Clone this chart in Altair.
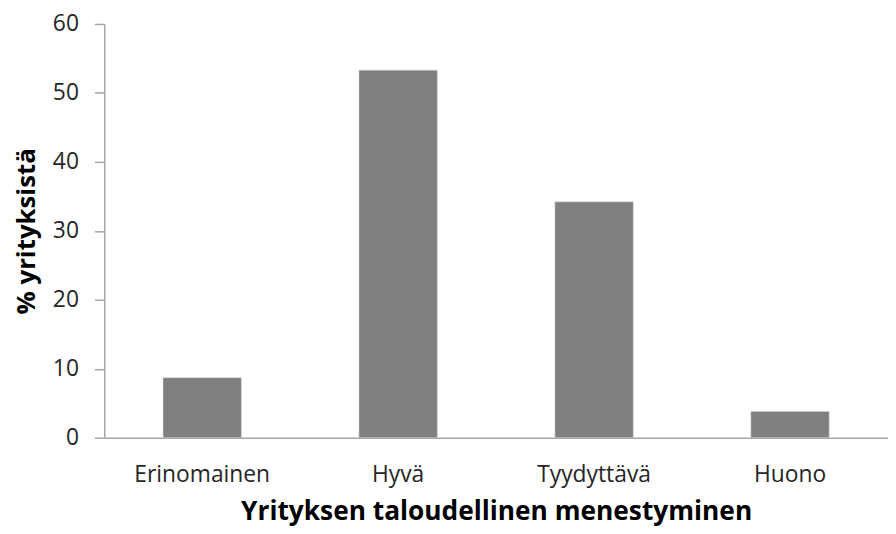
import altair as alt
import pandas as pd

categories = ["Erinomainen", "Hyvä", "Tyydyttävä", "Huono"]
values = [8.7, 53.3, 34.2, 3.8]

df = pd.DataFrame({"cat": categories, "val": values})

FONT = "Open Sans"
AX = "#a6a6a6"

chart = alt.Chart(df).mark_bar(color="#808080", stroke="#d9d9d9", strokeWidth=0.5).encode(
    x=alt.X("cat:N", sort=categories,
            scale=alt.Scale(paddingInner=0.6, paddingOuter=0.3),
            axis=alt.Axis(title="Yrityksen taloudellinen menestyminen", labelAngle=0,
                          ticks=False, labelPadding=26, labelFontSize=23, labelColor="#262626",
                          labelFont=FONT, titleFont=FONT, titleFontSize=26.5, titleFontWeight="bold",
                          titleColor="#000000", titlePadding=12, domainColor=AX, domainWidth=1.5)),
    y=alt.Y("val:Q", scale=alt.Scale(domain=[0, 60]),
            axis=alt.Axis(title="% yrityksistä", values=[0, 10, 20, 30, 40, 50, 60], grid=False,
                          tickSize=10, tickColor=AX, tickWidth=1.5, domainColor=AX, domainWidth=1.5,
                          labelPadding=16, labelFontSize=23, labelColor="#262626", labelFont=FONT,
                          titleFont=FONT, titleFontSize=26, titleFontWeight="bold", titleColor="#000000",
                          titlePadding=13)),
).properties(
    width=790, height=417,
    autosize=alt.AutoSizeParams(type="none"),
    padding={"left": 97, "top": 14, "right": 0, "bottom": 94},
).configure_view(stroke=None)

chart.save("out.html", embed_options={"renderer": "svg", "actions": False})
